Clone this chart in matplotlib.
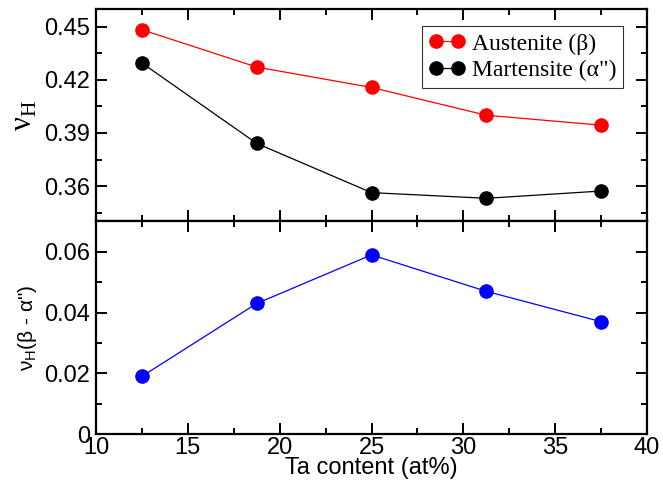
import numpy as np
import matplotlib.pyplot as plt
from matplotlib.ticker import MultipleLocator

plt.rcParams['font.family'] = ['Liberation Sans', 'DejaVu Sans']
plt.rcParams['mathtext.fontset'] = 'custom'
plt.rcParams['mathtext.rm'] = 'Liberation Serif'
plt.rcParams['mathtext.sf'] = 'Liberation Sans'

# Ta content (at%)
ta = [12.5, 18.75, 25.0, 31.25, 37.5]

# Poisson ratio nu_H
nu_austenite = [0.4483, 0.4272, 0.4157, 0.4000, 0.3944]
nu_martensite = [0.4295, 0.3841, 0.3563, 0.3531, 0.3572]
nu_diff = [0.019, 0.043, 0.059, 0.047, 0.037]

fig = plt.figure(figsize=(6.63, 4.87), dpi=100)
ax1 = fig.add_axes([0.1448, 0.5452, 0.8311, 0.4363])
ax2 = fig.add_axes([0.1448, 0.1088, 0.8311, 0.4364], sharex=ax1)

ax1.plot(ta, nu_austenite, 'o-', color='red', lw=0.9, ms=9.5, label='Austenite (β)')
ax1.plot(ta, nu_martensite, 'o-', color='black', lw=0.9, ms=9.5, label='Martensite (α")')
ax2.plot(ta, nu_diff, 'o-', color='blue', lw=0.9, ms=9.5)

ax1.set_xlim(10, 40)
ax1.set_ylim(0.34, 0.46)
ax2.set_ylim(0, 0.07)

ax1.yaxis.set_major_locator(MultipleLocator(0.03))
ax1.yaxis.set_minor_locator(MultipleLocator(0.015))
ax2.yaxis.set_major_locator(MultipleLocator(0.02))
ax2.yaxis.set_minor_locator(MultipleLocator(0.01))
ax2.xaxis.set_major_locator(MultipleLocator(5))
ax2.xaxis.set_minor_locator(MultipleLocator(2.5))

ax1.set_yticks([0.36, 0.39, 0.42, 0.45])
ax1.set_yticklabels(['0.36', '0.39', '0.42', '0.45'])
ax2.set_yticks([0, 0.02, 0.04, 0.06])
ax2.set_yticklabels(['0', '0.02', '0.04', '0.06'])

for ax in (ax1, ax2):
    ax.tick_params(which='both', direction='in', top=True, right=True, width=1.4, labelsize=17)
    ax.tick_params(which='major', length=8, pad=4)
    ax.tick_params(which='minor', length=4)
    for s in ax.spines.values():
        s.set_linewidth(1.6)
ax1.tick_params(labelbottom=False)
ax2.tick_params(axis='x', pad=2)

ax1.set_ylabel(r'ν$_\mathrm{H}$', fontsize=22, labelpad=4, family='Liberation Serif')
ax2.set_ylabel(r'ν$_\mathsf{H}$(β - α")', fontsize=15, labelpad=4)
ax2.set_xlabel('Ta content (at%)', fontsize=17, labelpad=-1)

leg = ax1.legend(loc='upper right', bbox_to_anchor=(0.957, 0.92), fancybox=False, edgecolor='black',
                 prop={'family': 'Liberation Serif', 'size': 17}, numpoints=2, handlelength=1.5,
                 handletextpad=0.3, borderpad=0.3, labelspacing=0.2, borderaxespad=0)
leg.get_frame().set_linewidth(0.8)

fig.savefig('out.png', dpi=100)
